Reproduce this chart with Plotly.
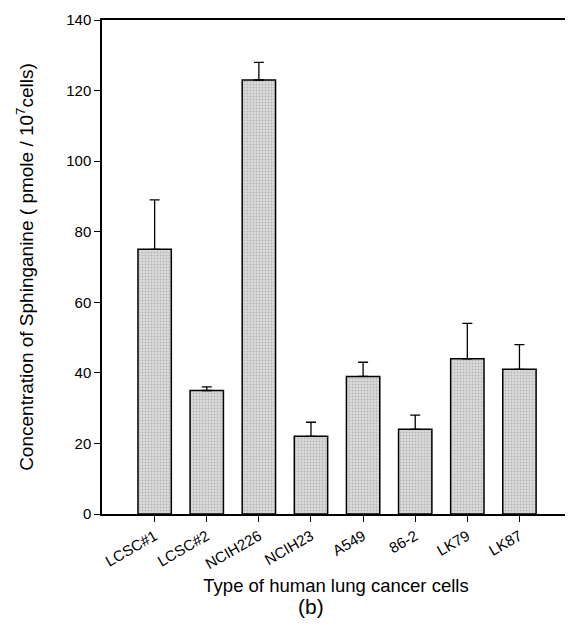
import plotly.graph_objects as go

categories = ["LCSC#1", "LCSC#2", "NCIH226", "NCIH23", "A549", "86-2", "LK79", "LK87"]
values = [75, 35, 123, 22, 39, 24, 44, 41]
errors = [14, 1, 5, 4, 4, 4, 10, 7]
y_ticks = [0, 20, 40, 60, 80, 100, 120, 140]

positions = list(range(len(categories)))
FONT = "Liberation Sans, Arial, sans-serif"

fig = go.Figure()
fig.add_trace(go.Bar(
    x=positions,
    y=values,
    width=0.64,
    marker=dict(
        color="#dcdcdc",
        line=dict(color="black", width=1.5),
        pattern=dict(shape=".", fgcolor="#909090", size=3, solidity=0.35),
    ),
    error_y=dict(type="data", array=errors, arrayminus=[0] * len(errors),
                 symmetric=False, color="black", thickness=1.3, width=5),
    showlegend=False,
))

# page body adds an 8px offset, so the figure is sized/margined to compensate
fig.update_layout(
    width=565, height=618,
    margin=dict(l=94, r=1, t=12, b=112),
    paper_bgcolor="white", plot_bgcolor="white",
    font=dict(family=FONT, color="black"),
)
fig.update_xaxes(
    range=[-1.01, 7.97],
    tickvals=positions, ticktext=categories, tickangle=-30,
    ticks="outside", ticklen=6, tickcolor="black", tickwidth=1.2,
    showline=True, linecolor="black", linewidth=1.5, mirror=True,
    showgrid=False, zeroline=False,
    tickfont=dict(size=15),
    title=dict(text="Type of human lung cancer cells", font=dict(size=18.5), standoff=8),
)
fig.update_yaxes(
    range=[0, 140], tickvals=y_ticks,
    ticks="outside", ticklen=6, tickcolor="black", tickwidth=1.2,
    showline=True, linecolor="black", linewidth=1.5, mirror=True,
    showgrid=False, zeroline=False,
    tickfont=dict(size=15),
    title=dict(text="Concentration of Sphinganine ( pmole / 10<sup>7</sup>cells)",
               font=dict(size=19), standoff=28),
)
fig.add_annotation(text="(b)", xref="paper", yref="paper", x=0.447, y=-0.188,
                   xanchor="center", yanchor="middle", showarrow=False,
                   font=dict(size=21, family=FONT))

fig.write_html("out.html")
